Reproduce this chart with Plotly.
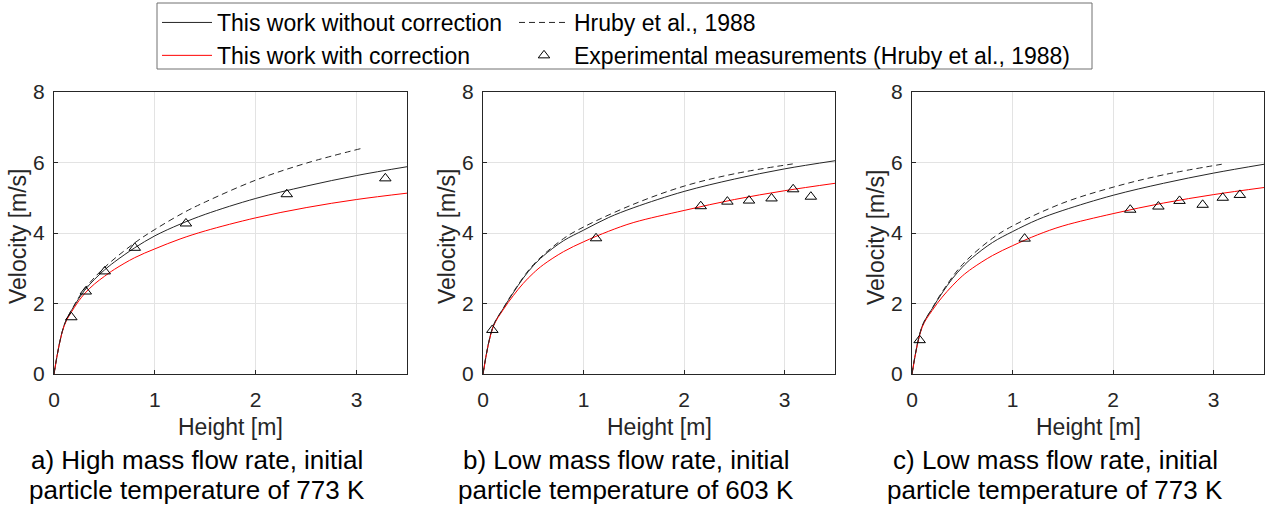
import plotly.graph_objects as go

W, H = 1274, 505

# ---------------- data ----------------
model_x = [0, 0.1, 0.2, 0.3, 0.4, 0.5, 0.6, 0.8, 1.0, 1.25, 1.5, 2.0, 2.5, 3.0, 3.5]

a_no_corr = [0, 1.38, 1.93, 2.36, 2.68, 2.95, 3.18, 3.58, 3.92, 4.25, 4.53, 4.98, 5.33, 5.63, 5.88]
a_corr = [0, 1.36, 1.88, 2.27, 2.55, 2.77, 2.97, 3.30, 3.55, 3.83, 4.06, 4.43, 4.72, 4.95, 5.13]
a_hruby_x = [0, 0.1, 0.2, 0.3, 0.5, 0.8, 1.0, 1.3, 1.5, 2.0, 2.5, 3.05]
a_hruby = [0, 1.38, 1.95, 2.40, 3.02, 3.72, 4.10, 4.60, 4.88, 5.50, 5.98, 6.40]
a_exp_x = [0.172, 0.315, 0.503, 0.801, 1.308, 2.308, 3.285]
a_exp = [1.61, 2.34, 2.91, 3.58, 4.27, 5.10, 5.55]

b_no_corr = [0, 1.35, 1.85, 2.30, 2.72, 3.07, 3.35, 3.78, 4.08, 4.44, 4.72, 5.18, 5.53, 5.82, 6.05]
b_corr = [0, 1.33, 1.82, 2.22, 2.57, 2.86, 3.10, 3.47, 3.75, 4.05, 4.30, 4.64, 4.95, 5.20, 5.41]
b_hruby_x = [0, 0.1, 0.2, 0.3, 0.5, 0.8, 1.0, 1.5, 2.0, 2.5, 3.08]
b_hruby = [0, 1.35, 1.86, 2.32, 3.10, 3.84, 4.17, 4.82, 5.33, 5.68, 5.96]
b_exp_x = [0.093, 1.124, 2.165, 2.430, 2.645, 2.869, 3.084, 3.26]
b_exp = [1.25, 3.85, 4.76, 4.89, 4.92, 4.98, 5.24, 5.03]

c_no_corr = [0, 1.35, 1.85, 2.30, 2.70, 3.03, 3.30, 3.73, 4.04, 4.38, 4.64, 5.07, 5.41, 5.70, 5.95]
c_corr = [0, 1.32, 1.80, 2.18, 2.50, 2.78, 3.00, 3.36, 3.64, 3.95, 4.20, 4.55, 4.85, 5.09, 5.29]
c_hruby_x = [0, 0.1, 0.2, 0.3, 0.5, 0.8, 1.0, 1.5, 2.0, 2.5, 3.08]
c_hruby = [0, 1.35, 1.86, 2.33, 3.10, 3.85, 4.20, 4.85, 5.30, 5.65, 5.95]
c_exp_x = [0.076, 1.12, 2.17, 2.45, 2.66, 2.89, 3.09, 3.26]
c_exp = [0.96, 3.84, 4.66, 4.75, 4.91, 4.80, 5.00, 5.08]

x_ticks = [0, 1, 2, 3]
y_ticks = [0, 2, 4, 6, 8]

names = ["This work without correction", "This work with correction",
         "Hruby et al., 1988", "Experimental measurements (Hruby et al., 1988)"]
captions = [
    ["a) High mass flow rate, initial", "particle temperature of 773 K"],
    ["b) Low mass flow rate, initial", "particle temperature of 603 K"],
    ["c) Low mass flow rate, initial", "particle temperature of 773 K"],
]
panels = [
    (a_no_corr, a_corr, a_hruby_x, a_hruby, a_exp_x, a_exp),
    (b_no_corr, b_corr, b_hruby_x, b_hruby, b_exp_x, b_exp),
    (c_no_corr, c_corr, c_hruby_x, c_hruby, c_exp_x, c_exp),
]

# ---------------- layout geometry (pixels) ----------------
px_left = [54, 483, 912]
px_right = [407, 835, 1264]
px_top, px_bottom = 92, 374

def fx(p):
    return p / W

def fy(p):
    return 1 - p / H

FONT = "Liberation Sans, Arial, sans-serif"
AX_COL = "#262626"

fig = go.Figure()

for i, (nc, cr, hx, hy, ex, ey) in enumerate(panels):
    xa = "x" if i == 0 else f"x{i+1}"
    ya = "y" if i == 0 else f"y{i+1}"
    first = i == 0
    fig.add_trace(go.Scatter(x=model_x, y=nc, mode="lines", name=names[0],
                             line=dict(color="#262626", width=1, shape="spline"),
                             xaxis=xa, yaxis=ya, showlegend=first, legend="legend",
                             legendrank=1))
    fig.add_trace(go.Scatter(x=model_x, y=cr, mode="lines", name=names[1],
                             line=dict(color="#ff0000", width=1, shape="spline"),
                             xaxis=xa, yaxis=ya, showlegend=first, legend="legend",
                             legendrank=2))
    fig.add_trace(go.Scatter(x=hx, y=hy, mode="lines", name=names[2],
                             line=dict(color="#262626", width=1, dash="6px,4px", shape="spline"),
                             xaxis=xa, yaxis=ya, showlegend=first, legend="legend2",
                             legendrank=1))
    fig.add_trace(go.Scatter(x=ex, y=ey, mode="markers", name=names[3],
                             marker=dict(symbol="triangle-up-open", size=10,
                                         color="#000000", line=dict(width=1, color="#000000")),
                             xaxis=xa, yaxis=ya, showlegend=first, legend="legend2",
                             legendrank=2))

axis_common = dict(showline=True, linecolor=AX_COL, linewidth=1, mirror=True,
                   showgrid=True, gridcolor="#e3e3e3", gridwidth=1,
                   ticks="inside", ticklen=4, tickcolor=AX_COL, zeroline=False,
                   automargin=False,
                   tickfont=dict(family=FONT, size=21, color=AX_COL))

layout = dict(width=W, height=H, margin=dict(l=0, r=0, t=0, b=0, autoexpand=False),
              paper_bgcolor="white", plot_bgcolor="white", showlegend=True)

annotations = []
for i in range(3):
    sx = "" if i == 0 else str(i + 1)
    layout[f"xaxis{sx}"] = dict(axis_common, domain=[fx(px_left[i]), fx(px_right[i])],
                                range=[0, 3.5], tickvals=x_ticks, anchor=f"y{sx}",
                                ticklabelstandoff=7)
    layout[f"yaxis{sx}"] = dict(axis_common, domain=[fy(px_bottom), fy(px_top)],
                                range=[0, 8], tickvals=y_ticks, anchor=f"x{sx}",
                                ticklabelstandoff=4)
    cx = (px_left[i] + px_right[i]) / 2
    annotations.append(dict(text="Height [m]", x=fx(cx), y=fy(427), xref="paper", yref="paper",
                            showarrow=False, xanchor="center", yanchor="middle",
                            font=dict(family=FONT, size=23, color=AX_COL)))
    annotations.append(dict(text="Velocity [m/s]", x=fx(px_left[i] - 36), y=fy((px_top + px_bottom) / 2 + 4),
                            xref="paper", yref="paper", textangle=-90,
                            showarrow=False, xanchor="center", yanchor="middle",
                            font=dict(family=FONT, size=23, color=AX_COL)))
    for j, line in enumerate(captions[i]):
        annotations.append(dict(text=line, x=fx(cx - 33), y=fy(460 + 29.5 * j), xref="paper", yref="paper",
                                showarrow=False, xanchor="center", yanchor="middle",
                                font=dict(family=FONT, size=26, color="#000000")))

layout["annotations"] = annotations
leg_common = dict(orientation="v", xanchor="left", yanchor="top", bgcolor="rgba(0,0,0,0)",
                  borderwidth=0, font=dict(family=FONT, size=23, color="#000000"),
                  itemwidth=50, tracegroupgap=0)
layout["legend"] = dict(leg_common, x=fx(157), y=fy(1))
layout["legend2"] = dict(leg_common, x=fx(514), y=fy(1))
layout["shapes"] = [dict(type="rect", xref="paper", yref="paper",
                         x0=fx(157), x1=fx(1092), y0=fy(69), y1=fy(3),
                         line=dict(color="#707070", width=1), fillcolor="rgba(0,0,0,0)")]

fig.update_layout(**layout)
fig.write_html("out.html")
